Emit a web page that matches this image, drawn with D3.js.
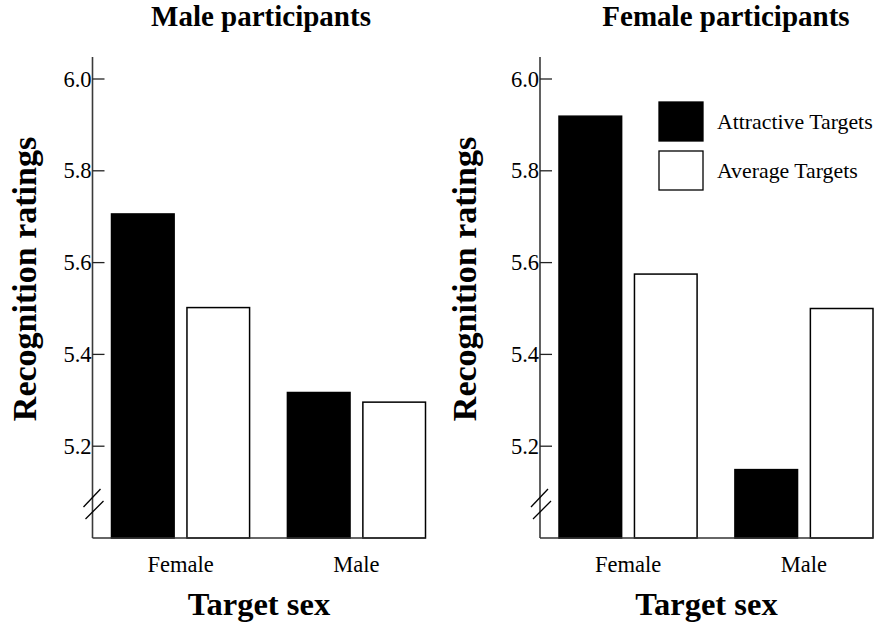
<!DOCTYPE html>
<html>
<head>
<meta charset="utf-8">
<script src="https://cdn.jsdelivr.net/npm/d3@7"></script>
<style>
  html, body { margin: 0; padding: 0; background: #fff; }
  svg { display: block; }
  text { font-family: "Liberation Serif", "Times New Roman", serif; fill: #000; }
</style>
</head>
<body>
<svg id="chart" width="875" height="623"></svg>
<script>
// ---- Data ----
const categories = ["Female", "Male"];
const seriesNames = ["Attractive Targets", "Average Targets"];
const maleAttractive = [5.706, 5.317];
const maleAverage = [5.502, 5.296];
const femaleAttractive = [5.919, 5.149];
const femaleAverage = [5.575, 5.500];
const yTicks = [5.2, 5.4, 5.6, 5.8, 6.0];
const yTickLabels = ["5.2", "5.4", "5.6", "5.8", "6.0"];
const panelTitles = ["Male participants", "Female participants"];
const xTitle = "Target sex";
const yTitle = "Recognition ratings";

// ---- Layout ----
const svg = d3.select("#chart");
const fills = ["#000", "#fff"];
const y = d3.scaleLinear().domain([5.0, 6.0]).range([538, 79]);

const panels = [
  { title: panelTitles[0], series: [maleAttractive, maleAverage], axisX: 92.5, titleX: 261, ylabelX: 36, legend: false },
  { title: panelTitles[1], series: [femaleAttractive, femaleAverage], axisX: 540, titleX: 726, ylabelX: 476, legend: true }
];

panels.forEach(p => {
  const g = svg.append("g");
  const x0 = d3.scaleBand().domain(categories)
    .range([p.axisX + 19, p.axisX + 333]).paddingInner(0.215).paddingOuter(0);
  const x1 = d3.scaleBand().domain(seriesNames)
    .range([0, x0.bandwidth()]).paddingInner(0.17).paddingOuter(0);
  const xEnd = p.axisX + 333;

  // bars
  seriesNames.forEach((s, si) => {
    g.selectAll(null).data(categories).enter().append("rect")
      .attr("x", c => x0(c) + x1(s))
      .attr("y", (c, i) => y(p.series[si][i]))
      .attr("width", x1.bandwidth())
      .attr("height", (c, i) => y(5.0) - y(p.series[si][i]))
      .attr("fill", fills[si])
      .attr("stroke", "#000")
      .attr("stroke-width", 1.5);
  });

  // y axis line
  g.append("line")
    .attr("x1", p.axisX).attr("x2", p.axisX)
    .attr("y1", y(6.048)).attr("y2", y(5.0))
    .attr("stroke", "#3a3a3a").attr("stroke-width", 1.6);
  // x axis line
  g.append("line")
    .attr("x1", p.axisX).attr("x2", xEnd)
    .attr("y1", y(5.0)).attr("y2", y(5.0))
    .attr("stroke", "#333").attr("stroke-width", 1.6);

  // y ticks (inside, to the right) + labels
  yTicks.forEach((t, i) => {
    g.append("line")
      .attr("x1", p.axisX).attr("x2", p.axisX + 12)
      .attr("y1", y(t)).attr("y2", y(t))
      .attr("stroke", "#222").attr("stroke-width", 1.3);
    g.append("text")
      .attr("x", p.axisX - 1).attr("y", y(t))
      .attr("text-anchor", "end").attr("dominant-baseline", "central")
      .attr("font-size", 22.5)
      .text(yTickLabels[i]);
  });

  // axis break marks
  const by = y(5.0);
  [[-9, -31, 8, -49], [-7, -19, 11, -37]].forEach(d => {
    g.append("line")
      .attr("x1", p.axisX + d[0]).attr("y1", by + d[1])
      .attr("x2", p.axisX + d[2]).attr("y2", by + d[3])
      .attr("stroke", "#000").attr("stroke-width", 1.3);
  });

  // category labels
  categories.forEach(c => {
    g.append("text")
      .attr("x", x0(c) + x0.bandwidth() / 2).attr("y", 572)
      .attr("text-anchor", "middle").attr("font-size", 22.5)
      .text(c);
  });

  // x title
  g.append("text")
    .attr("x", (p.axisX + xEnd) / 2).attr("y", 615)
    .attr("text-anchor", "middle").attr("font-size", 32.5).attr("font-weight", "bold")
    .text(xTitle);

  // y title
  g.append("text")
    .attr("transform", `translate(${p.ylabelX},279) rotate(-90)`)
    .attr("text-anchor", "middle").attr("font-size", 34).attr("font-weight", "bold")
    .text(yTitle);

  // panel title
  g.append("text")
    .attr("x", p.titleX).attr("y", 26)
    .attr("text-anchor", "middle").attr("font-size", 29).attr("font-weight", "bold")
    .text(p.title);

  // legend
  if (p.legend) {
    const ly = [102, 151];
    seriesNames.forEach((s, si) => {
      g.append("rect")
        .attr("x", 659).attr("y", ly[si]).attr("width", 44).attr("height", 39)
        .attr("fill", fills[si]).attr("stroke", "#000").attr("stroke-width", 1.3);
      g.append("text")
        .attr("x", 717).attr("y", ly[si] + 20)
        .attr("dominant-baseline", "central").attr("font-size", 21.8)
        .text(s);
    });
  }
});
</script>
</body>
</html>
